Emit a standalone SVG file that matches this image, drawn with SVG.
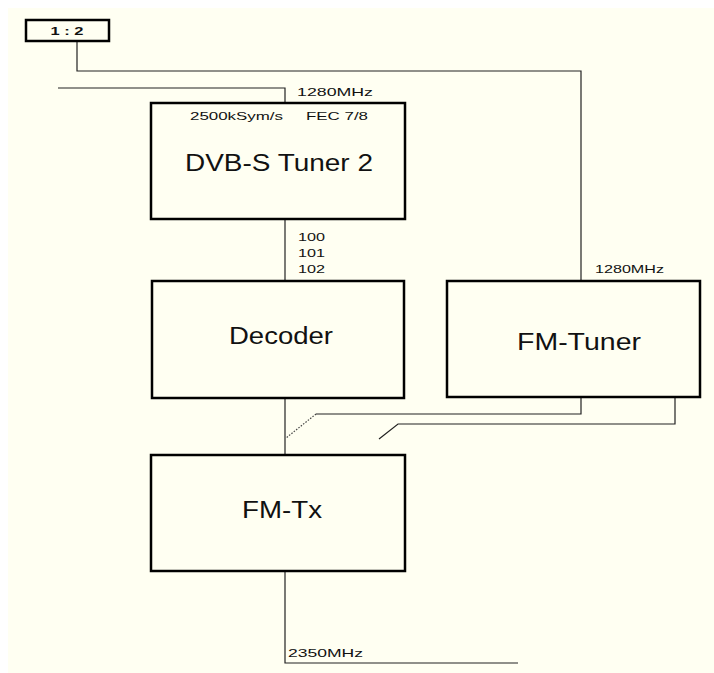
<svg xmlns="http://www.w3.org/2000/svg" width="714" height="673" viewBox="0 0 714 673">
<style>
.box{fill:none;stroke:#000;stroke-width:2.5}
.ln{fill:none;stroke:#222;stroke-width:1.2}
.dot{fill:none;stroke:#444;stroke-width:1.2;stroke-dasharray:1.5 1.5}
text{font-family:"Liberation Sans",Arial,sans-serif;fill:#111}
.big{font-size:23px}
.sm{font-size:11px}
</style>
<rect x="0" y="0" width="714" height="673" fill="#ffffff"/>
<rect x="8" y="8" width="706" height="665" fill="#fffff2"/>
<g id="connectors">
<polyline class="ln" points="77,41 77,71 581,71 581,281"/>
<polyline class="ln" points="58,88 285,88 285,103"/>
<line class="ln" x1="285" y1="219" x2="285" y2="281"/>
<line class="ln" x1="285" y1="398" x2="285" y2="455"/>
<polyline class="ln" points="581,397 581,414 316,414"/>
<line class="dot" x1="316" y1="414" x2="286" y2="438"/>
<polyline class="ln" points="675,397 675,424 398,424 379,439"/>
<polyline class="ln" points="285,571 285,663 518,663"/>
</g>
<g id="ratio">
<rect class="box" x="26" y="20" width="83" height="21" fill="#fff"/>
<text x="67" y="35" font-size="11" font-weight="bold" text-anchor="middle" textLength="33" lengthAdjust="spacingAndGlyphs">1 : 2</text>
</g>
<g id="dvbs-tuner">
<rect class="box" x="151" y="103" width="254" height="116"/>
<text class="sm" x="190" y="120" textLength="93" lengthAdjust="spacingAndGlyphs">2500kSym/s</text>
<text class="sm" x="306" y="120" textLength="62" lengthAdjust="spacingAndGlyphs">FEC 7/8</text>
<text class="big" x="185" y="171" textLength="188" lengthAdjust="spacingAndGlyphs">DVB-S Tuner 2</text>
</g>
<g id="decoder">
<rect class="box" x="152" y="281" width="252" height="117"/>
<text class="big" x="229" y="344" textLength="104" lengthAdjust="spacingAndGlyphs">Decoder</text>
</g>
<g id="fm-tuner">
<rect class="box" x="447" y="281" width="253" height="116"/>
<text class="big" x="517" y="350" textLength="124" lengthAdjust="spacingAndGlyphs">FM-Tuner</text>
</g>
<g id="fm-tx">
<rect class="box" x="151" y="455" width="254" height="116"/>
<text class="big" x="242" y="518" textLength="80" lengthAdjust="spacingAndGlyphs">FM-Tx</text>
</g>
<g id="labels">
<text class="sm" x="297" y="96" textLength="76" lengthAdjust="spacingAndGlyphs">1280MHz</text>
<text class="sm" x="298" y="241" textLength="27" lengthAdjust="spacingAndGlyphs">100</text>
<text class="sm" x="298" y="257" textLength="27" lengthAdjust="spacingAndGlyphs">101</text>
<text class="sm" x="298" y="273" textLength="27" lengthAdjust="spacingAndGlyphs">102</text>
<text class="sm" x="595" y="273" textLength="69" lengthAdjust="spacingAndGlyphs">1280MHz</text>
<text class="sm" x="288" y="657" textLength="75" lengthAdjust="spacingAndGlyphs">2350MHz</text>
</g>
</svg>
